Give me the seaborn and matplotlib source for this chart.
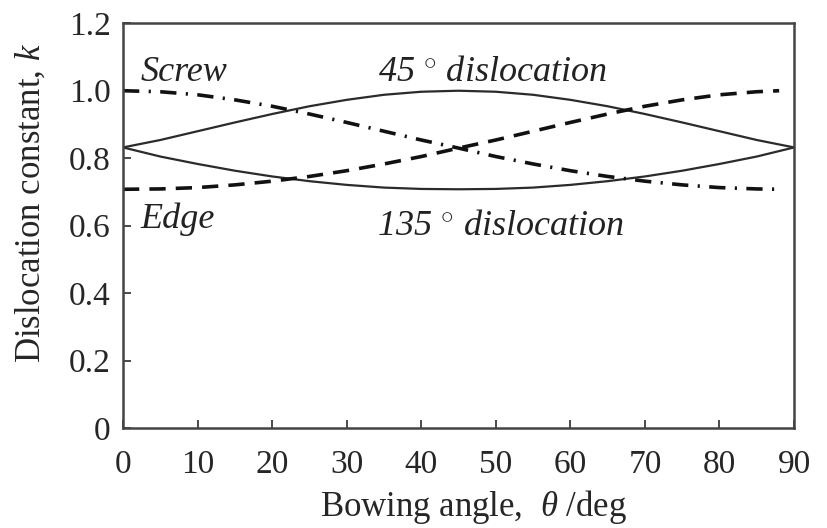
import matplotlib
matplotlib.use("Agg")
import matplotlib.pyplot as plt
import numpy as np
import pandas as pd
import seaborn as sns

# bowing angle (deg)
THETA = [0, 5, 10, 15, 20, 25, 30, 35, 40, 45, 50, 55, 60, 65, 70, 75, 80, 85, 90]
THETA_DASHED = [0, 5, 10, 15, 20, 25, 30, 35, 40, 45, 50, 55, 60, 65, 70, 75, 80, 85, 88]

SCREW = [1.000, 0.997, 0.988, 0.973, 0.954, 0.931, 0.906, 0.880, 0.854, 0.830,
         0.805, 0.783, 0.763, 0.746, 0.732, 0.721, 0.713, 0.709, 0.708]
EDGE = [0.708, 0.709, 0.713, 0.721, 0.732, 0.746, 0.763, 0.783, 0.805, 0.830,
        0.854, 0.880, 0.906, 0.931, 0.954, 0.973, 0.988, 0.997, 1.000]
DISL_45 = [0.832, 0.854, 0.880, 0.906, 0.931, 0.954, 0.973, 0.988, 0.997, 1.000,
           0.997, 0.988, 0.973, 0.954, 0.931, 0.906, 0.880, 0.854, 0.832]
DISL_135 = [0.832, 0.805, 0.783, 0.763, 0.746, 0.732, 0.721, 0.713, 0.709, 0.708,
            0.709, 0.713, 0.721, 0.732, 0.746, 0.763, 0.783, 0.805, 0.832]

X_TICKS = [0, 10, 20, 30, 40, 50, 60, 70, 80, 90]
Y_TICKS = [0, 0.2, 0.4, 0.6, 0.8, 1.0, 1.2]
Y_TICK_LABELS = ["0", "0.2", "0.4", "0.6", "0.8", "1.0", "1.2"]

INK = "#2b2b2b"


def configure_style() -> None:
    sns.set_theme(style="ticks")
    plt.rcParams["font.family"] = ["Liberation Serif", "DejaVu Serif"]
    plt.rcParams["mathtext.fontset"] = "custom"
    plt.rcParams["mathtext.it"] = "Liberation Serif:italic"
    plt.rcParams["mathtext.rm"] = "Liberation Serif"
    plt.rcParams["xtick.direction"] = "in"
    plt.rcParams["ytick.direction"] = "in"


def main() -> None:
    configure_style()
    fig = plt.figure(figsize=(8.28, 5.28), dpi=100)
    ax = fig.add_axes([0.1486, 0.189, 0.8104, 0.767])

    solid = pd.DataFrame({"theta": THETA, "d45": DISL_45, "d135": DISL_135})
    dashed = pd.DataFrame({"theta": THETA_DASHED, "screw": SCREW, "edge": EDGE})

    sns.lineplot(data=solid, x="theta", y="d45", color=INK, linewidth=1.6, ax=ax)
    sns.lineplot(data=solid, x="theta", y="d135", color=INK, linewidth=1.6, ax=ax)
    sns.lineplot(data=dashed, x="theta", y="edge", color="#111111", linewidth=2.6,
                 ax=ax).lines[-1].set_dashes([4.5, 2.8])
    sns.lineplot(data=dashed, x="theta", y="screw", color="#111111", linewidth=2.6,
                 ax=ax).lines[-1].set_dashes([4.5, 2.6, 0.6, 2.6])

    ax.set_xlim(0, 90)
    ax.set_ylim(0, 1.2)
    ax.set_xticks(X_TICKS)
    ax.set_yticks(Y_TICKS)
    ax.set_yticklabels(Y_TICK_LABELS)
    ax.tick_params(labelsize=24, length=6, width=1.2, color=INK)
    ax.tick_params(axis="x", pad=15)
    ax.tick_params(axis="y", pad=9)
    for side in ["top", "right", "bottom", "left"]:
        ax.spines[side].set_visible(True)
        ax.spines[side].set_color("#444444")
        ax.spines[side].set_linewidth(1.8)

    ax.set_xlabel(r"Bowing angle,  $\mathit{\theta}$ /deg", fontsize=25)
    ax.set_ylabel(r"Dislocation constant, $\mathit{k}$", fontsize=25)
    ax.xaxis.set_label_coords(0.522, -0.148)
    ax.yaxis.set_label_coords(-0.112, 0.556)

    label_kw = dict(fontsize=26, style="italic", color="#222222", va="center")
    ax.text(2.3, 1.055, "Screw", **label_kw)
    ax.text(2.3, 0.618, "Edge", **label_kw)
    ax.text(34.2, 1.055, r"45 $^{\circ}$ dislocation", **label_kw)
    ax.text(34.0, 0.598, r"135 $^{\circ}$ dislocation", **label_kw)

    fig.savefig("out.png", dpi=100)
    plt.close(fig)


if __name__ == "__main__":
    main()
